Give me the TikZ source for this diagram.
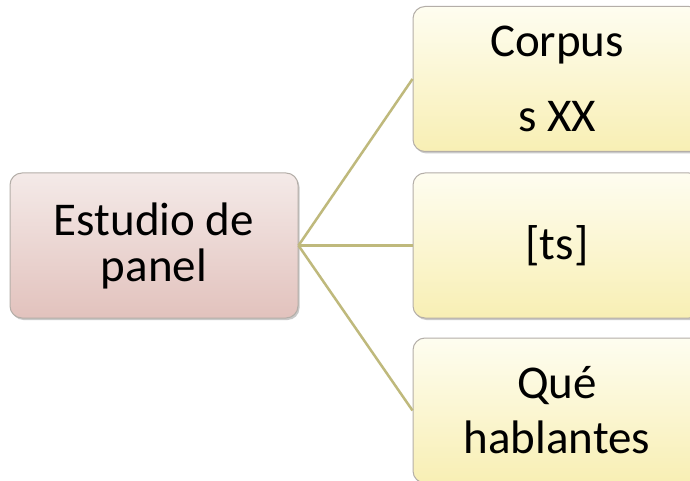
\documentclass[tikz,border=0pt]{standalone}
\usepackage{fontspec}
\setmainfont{Carlito}
\usetikzlibrary{shadows}
\definecolor{pinktop}{HTML}{F4EAE8}
\definecolor{pinkbot}{HTML}{E2C2BD}
\definecolor{yeltop}{HTML}{FEFDF0}
\definecolor{yelbot}{HTML}{F8EFB4}
\definecolor{linkcol}{HTML}{BFB97C}
\definecolor{bordcol}{HTML}{B4AEA8}
\tikzset{
  boxbase/.style={rectangle, rounded corners=12pt, draw=bordcol, line width=1pt,
    minimum width=288pt, minimum height=145pt, inner sep=0pt, align=center,
    font=\fontsize{47}{46}\selectfont,
    drop shadow={shadow xshift=1.5pt, shadow yshift=-2pt, opacity=0.35, fill=black!60}},
  pinkbox/.style={boxbase, top color=pinktop, bottom color=pinkbot},
  yelbox/.style={boxbase, top color=yeltop, bottom color=yelbot},
  link/.style={draw=linkcol, line width=2.5pt}
}
\begin{document}
\begin{tikzpicture}[x=1pt,y=-1pt]
\useasboundingbox (0,0) rectangle (690,481);
\fill[white] (0,0) rectangle (690,481);
\node[pinkbox] (lb) at (154,245.5) {Estudio de\\panel};
\node[yelbox] (tr) at (557,79) {Corpus\\[29pt]s XX};
\node[yelbox] (mr) at (557,245.5) {[ts]};
\node[yelbox] (br) at (557,410.5) {Qué\\[9pt]hablantes};
\draw[link] (lb.east) -- (tr.west);
\draw[link] (lb.east) -- (mr.west);
\draw[link] (lb.east) -- (br.west);
\end{tikzpicture}
\end{document}
